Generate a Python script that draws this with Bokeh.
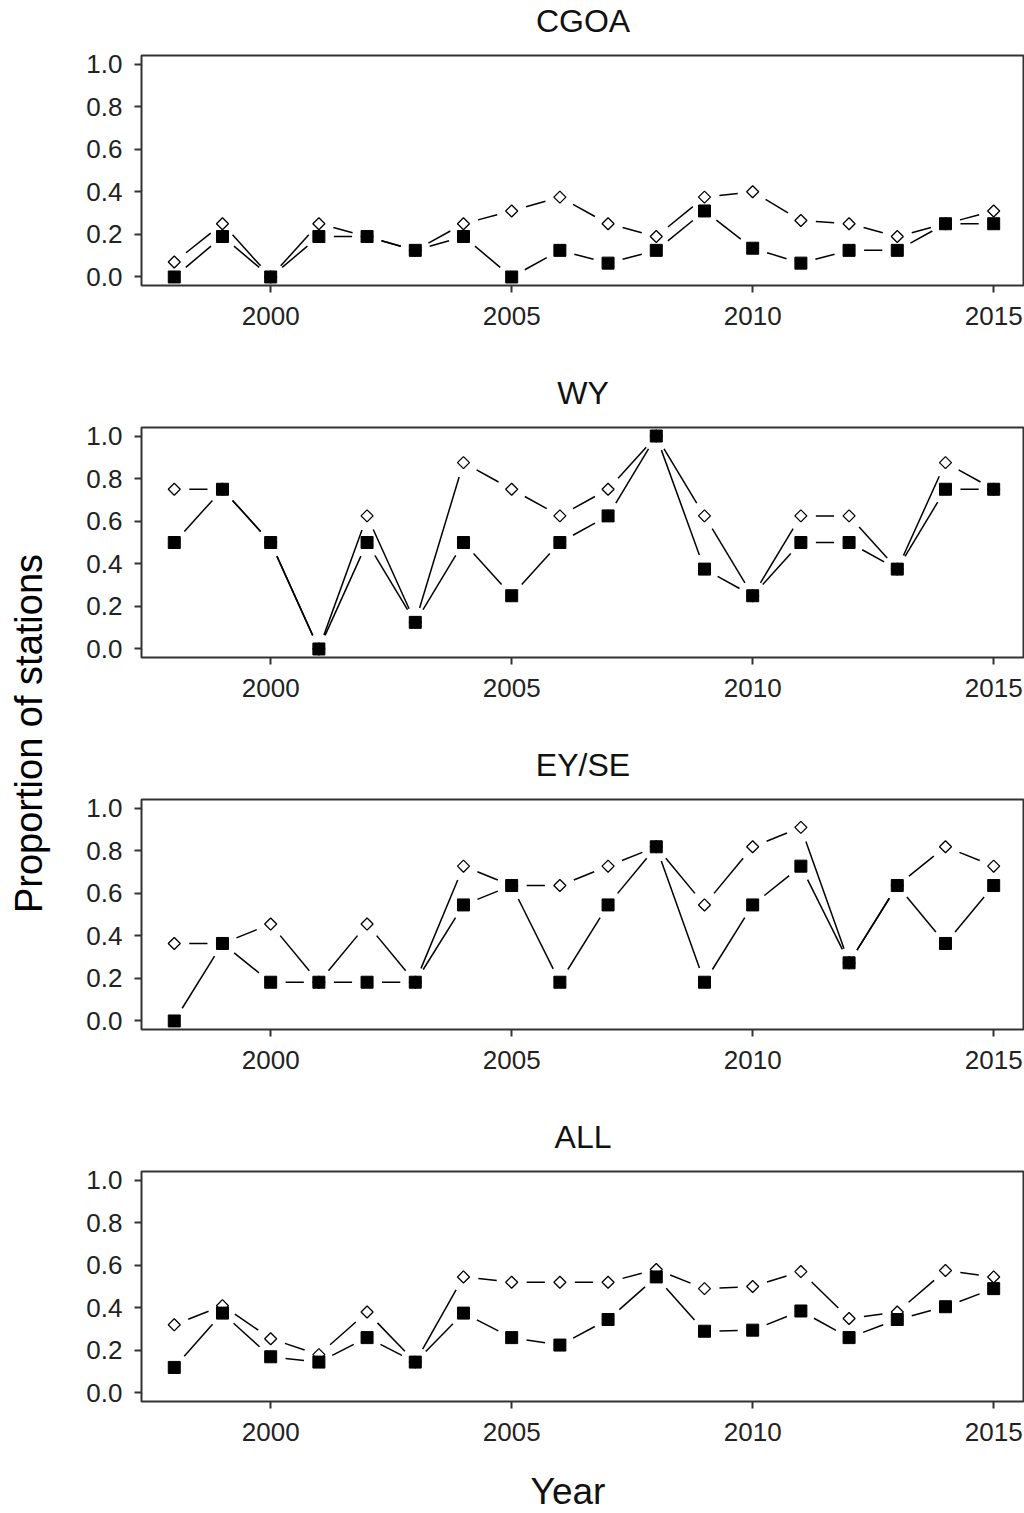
import math
from bokeh.plotting import figure
from bokeh.layouts import row, column
from bokeh.models import Label, FixedTicker, PrintfTickFormatter, Range1d
from bokeh.embed import file_html
from bokeh.resources import INLINE

years = list(range(1998, 2016))

panel_titles = ["CGOA", "WY", "EY/SE", "ALL"]

cgoa_open = [0.07, 0.25, 0.0, 0.25, 0.19, 0.125, 0.25, 0.31, 0.375, 0.25, 0.19, 0.375, 0.40, 0.265, 0.25, 0.19, 0.25, 0.31]
cgoa_filled = [0.0, 0.19, 0.0, 0.19, 0.19, 0.125, 0.19, 0.0, 0.125, 0.065, 0.125, 0.31, 0.135, 0.065, 0.125, 0.125, 0.25, 0.25]

wy_open = [0.75, 0.75, 0.5, 0.0, 0.625, 0.125, 0.875, 0.75, 0.625, 0.75, 1.0, 0.625, 0.25, 0.625, 0.625, 0.375, 0.875, 0.75]
wy_filled = [0.5, 0.75, 0.5, 0.0, 0.5, 0.125, 0.5, 0.25, 0.5, 0.625, 1.0, 0.375, 0.25, 0.5, 0.5, 0.375, 0.75, 0.75]

eyse_open = [0.364, 0.364, 0.455, 0.182, 0.455, 0.182, 0.727, 0.636, 0.636, 0.727, 0.818, 0.545, 0.818, 0.909, 0.273, 0.636, 0.818, 0.727]
eyse_filled = [0.0, 0.364, 0.182, 0.182, 0.182, 0.182, 0.545, 0.636, 0.182, 0.545, 0.818, 0.182, 0.545, 0.727, 0.273, 0.636, 0.364, 0.636]

all_open = [0.32, 0.41, 0.255, 0.18, 0.38, 0.145, 0.545, 0.52, 0.52, 0.52, 0.58, 0.49, 0.50, 0.57, 0.35, 0.38, 0.575, 0.545]
all_filled = [0.12, 0.375, 0.17, 0.145, 0.26, 0.145, 0.375, 0.26, 0.225, 0.345, 0.545, 0.29, 0.295, 0.385, 0.26, 0.345, 0.405, 0.49]

x_ticks = [2000, 2005, 2010, 2015]
y_ticks = [0.0, 0.2, 0.4, 0.6, 0.8, 1.0]

series = [(cgoa_open, cgoa_filled), (wy_open, wy_filled), (eyse_open, eyse_filled), (all_open, all_filled)]

FONT = "Liberation Sans"
FW, FH = 883, 230
BL = 60                       # left border of each panel
PX_PER_YEAR = 48.2
X0, X1 = 1997.32, 1997.32 + FW / PX_PER_YEAR
Y0, Y1 = -0.04, 1.04
GAP = 15.0                    # px gap around points (R type="b")
LEFT_W = 81
TITLE_H = 43
PANEL_TOP = 12
BOTTOMS = [87, 87, 87, 60]
XLAB_H = 52
TOTAL_H = 4 * TITLE_H + sum(PANEL_TOP + FH + b for b in BOTTOMS) + XLAB_H


def gapped_segments(xs, ys):
    sx = FW / (X1 - X0)
    sy = FH / (Y1 - Y0)
    x0s, y0s, x1s, y1s = [], [], [], []
    for i in range(len(xs) - 1):
        dx = xs[i + 1] - xs[i]
        dy = ys[i + 1] - ys[i]
        L = math.hypot(dx * sx, dy * sy)
        if L <= 2 * GAP:
            continue
        f = GAP / L
        x0s.append(xs[i] + dx * f)
        y0s.append(ys[i] + dy * f)
        x1s.append(xs[i + 1] - dx * f)
        y1s.append(ys[i + 1] - dy * f)
    return x0s, y0s, x1s, y1s


def text_strip(height, text, x, y_from_bottom, size):
    f = figure(frame_width=FW, frame_height=height, x_range=Range1d(X0, X1),
               y_range=Range1d(0, height), x_axis_type=None, y_axis_type=None,
               toolbar_location=None, output_backend="svg",
               min_border_left=BL, min_border_right=0, min_border_top=0,
               min_border_bottom=0, outline_line_color=None)
    f.xgrid.visible = False
    f.ygrid.visible = False
    f.add_layout(Label(x=x, y=y_from_bottom, text=text,
                       text_align="center", text_baseline="alphabetic",
                       text_font=FONT, text_font_size=size, text_color="#111111"))
    return f


items = []
for k, (title, (opn, fil)) in enumerate(zip(panel_titles, series)):
    items.append(text_strip(TITLE_H, title, (X0 + X1) / 2, 23, "32px"))

    p = figure(frame_width=FW, frame_height=FH,
               x_range=Range1d(X0, X1), y_range=Range1d(Y0, Y1),
               output_backend="svg", toolbar_location=None,
               min_border_left=BL, min_border_right=0,
               min_border_top=PANEL_TOP, min_border_bottom=BOTTOMS[k])
    p.xgrid.visible = False
    p.ygrid.visible = False
    p.outline_line_color = "#333333"
    p.outline_line_width = 2
    p.outline_line_alpha = 1.0
    p.background_fill_color = "white"
    p.border_fill_color = "white"

    p.xaxis.ticker = FixedTicker(ticks=x_ticks)
    p.yaxis.ticker = FixedTicker(ticks=y_ticks)
    p.yaxis.formatter = PrintfTickFormatter(format="%.1f")
    for ax in (p.xaxis, p.yaxis):
        ax.axis_line_color = None
        ax.major_tick_line_color = "#333333"
        ax.major_tick_line_width = 2
        ax.major_tick_in = 0
        ax.major_tick_out = 7
        ax.minor_tick_line_color = None
        ax.major_label_text_font = FONT
        ax.major_label_text_font_size = "26px"
        ax.major_label_text_color = "#222222"
    p.xaxis.major_label_standoff = 14
    p.yaxis.major_label_standoff = 12

    for vals in (opn, fil):
        x0s, y0s, x1s, y1s = gapped_segments(years, vals)
        p.segment(x0=x0s, y0=y0s, x1=x1s, y1=y1s, line_color="black", line_width=1.5)

    p.scatter(years, opn, marker="square", angle=math.pi / 4, size=8.5,
              fill_color="white", line_color="black", line_width=1.3)
    p.scatter(years, fil, marker="square", size=12, fill_color="black",
              line_color="black", line_width=1)
    items.append(p)

items.append(text_strip(XLAB_H, "Year", (X0 + X1) / 2 - 15 / PX_PER_YEAR, 22, "37px"))

left = figure(width=LEFT_W, height=TOTAL_H, x_range=Range1d(0, LEFT_W),
              y_range=Range1d(0, TOTAL_H), x_axis_type=None, y_axis_type=None,
              toolbar_location=None, output_backend="svg", min_border=0,
              outline_line_color=None)
left.xgrid.visible = False
left.ygrid.visible = False
left.add_layout(Label(x=28, y=TOTAL_H - 733, text="Proportion of stations",
                      angle=math.pi / 2, text_align="center",
                      text_baseline="alphabetic", text_font=FONT,
                      text_font_size="38px", text_color="black"))

layout = row(left, column(*items, spacing=0), spacing=0)

open("out.html", "w").write(file_html(layout, INLINE))
